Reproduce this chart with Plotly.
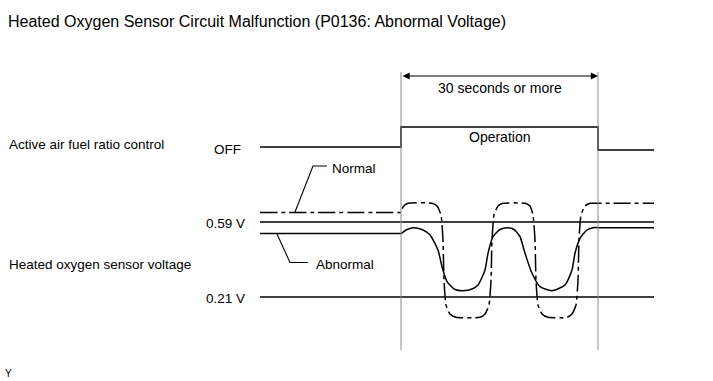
import plotly.graph_objects as go

# Diagram coordinate space (time -> x, level -> y), drawn on a 713 x 381 canvas
t_start, t_on, t_off, t_end = 260, 401, 598, 654

# Active air fuel ratio control signal
ctrl_t = [t_start, t_on, t_on, t_off, t_off, t_end]
ctrl_y = [147, 147, 127, 127, 150, 150]

# Threshold levels
v059 = 222
v021 = 297

# Normal sensor voltage (dash-dot)
norm_t = [260, 398, 401, 403, 408, 432, 437, 441, 443, 444, 446, 450, 456, 480, 485, 489, 491, 492, 494, 498, 503,
          525, 530, 533, 535, 536, 538, 542, 548, 567, 572, 576, 578, 579, 581, 585, 590, 600, 654]
norm_y = [212.5, 212.5, 212.5, 207, 203.3, 203.3, 206, 215, 240, 280, 305, 314, 317.3, 317.3, 314, 305, 280, 240, 215, 206, 203.3,
          203.3, 206, 215, 240, 280, 305, 314, 317.3, 317.3, 314, 305, 280, 240, 215, 206, 203.3, 203.3, 203.3]

# Abnormal sensor voltage (solid)
abn_t = [260, 396, 401, 406, 413, 422, 430, 438, 442, 447, 455, 463, 472, 478, 485, 488, 493, 500, 507,
         514, 520, 525, 532, 540, 552, 565, 572, 575, 580, 587, 593, 602, 654]
abn_y = [233.5, 233.5, 233.5, 230, 227.7, 229.5, 235, 250, 266.7, 281.7, 289.5, 290.7, 289, 285, 270, 253.3, 236.7, 229.5, 227.7,
         229.5, 236.7, 253.3, 273.3, 286.7, 290.7, 285, 270, 253.3, 238.3, 230, 227.7, 227.7, 227.7]

FONT = "Arial, 'Liberation Sans', sans-serif"
fig = go.Figure()

line_kw = dict(mode="lines", hoverinfo="skip", showlegend=False)
fig.add_trace(go.Scatter(x=ctrl_t, y=ctrl_y, line=dict(color="black", width=1.6), **line_kw))
fig.add_trace(go.Scatter(x=[t_start, t_end], y=[v059, v059], line=dict(color="black", width=1.4), **line_kw))
fig.add_trace(go.Scatter(x=[t_start, t_end], y=[v021, v021], line=dict(color="black", width=1.4), **line_kw))
fig.add_trace(go.Scatter(x=norm_t, y=norm_y, line=dict(color="black", width=1.5, dash="17px,4px,4px,4px", shape="spline", smoothing=0.5), **line_kw))
fig.add_trace(go.Scatter(x=abn_t, y=abn_y, line=dict(color="black", width=1.5, shape="spline", smoothing=0.6), **line_kw))
# vertical time markers
for tx in (t_on, t_off):
    fig.add_trace(go.Scatter(x=[tx, tx], y=[72, 350], line=dict(color="#8a8a8a", width=1), **line_kw))
# leader lines
fig.add_trace(go.Scatter(x=[295, 313, 327], y=[212, 166, 166], line=dict(color="black", width=1.1), **line_kw))
fig.add_trace(go.Scatter(x=[277, 290, 308], y=[234, 262.5, 262.5], line=dict(color="black", width=1.1), **line_kw))

fig.add_annotation(x=t_off, y=76, ax=t_on, ay=76, xref="x", yref="y", axref="x", ayref="y",
                   text="", showarrow=True, arrowside="end+start", arrowhead=2, arrowsize=1.2,
                   arrowwidth=1.2, arrowcolor="black")

texts = [
    ("Heated Oxygen Sensor Circuit Malfunction (P0136: Abnormal Voltage)", 6, 21, "left", 16),
    ("30 seconds or more", 500, 88, "center", 14),
    ("Operation", 499, 137, "center", 14),
    ("Active air fuel ratio control", 7, 144, "left", 13.5),
    ("OFF", 243, 149, "right", 13.5),
    ("Normal", 330, 168, "left", 13.5),
    ("0.59 V", 247, 223, "right", 13.5),
    ("Heated oxygen sensor voltage", 7, 264, "left", 13.5),
    ("Abnormal", 314, 264, "left", 13.5),
    ("0.21 V", 247, 298.5, "right", 13.5),
    ("Y", 3, 373, "left", 10),
]
for s, x, y, anc, sz in texts:
    fig.add_annotation(x=x, y=y, xref="x", yref="y", text=s, showarrow=False, xanchor=anc, yanchor="middle",
                       font=dict(family=FONT, size=sz, color="black"))

fig.update_xaxes(range=[0, 713], visible=False, fixedrange=True)
fig.update_yaxes(range=[381, 0], visible=False, fixedrange=True)
fig.update_layout(width=713, height=381, margin=dict(l=0, r=0, t=0, b=0),
                  paper_bgcolor="white", plot_bgcolor="white")
fig.write_html("out.html", config={"displayModeBar": False},
               post_script="document.body.style.margin='0';document.body.style.overflow='hidden';")
